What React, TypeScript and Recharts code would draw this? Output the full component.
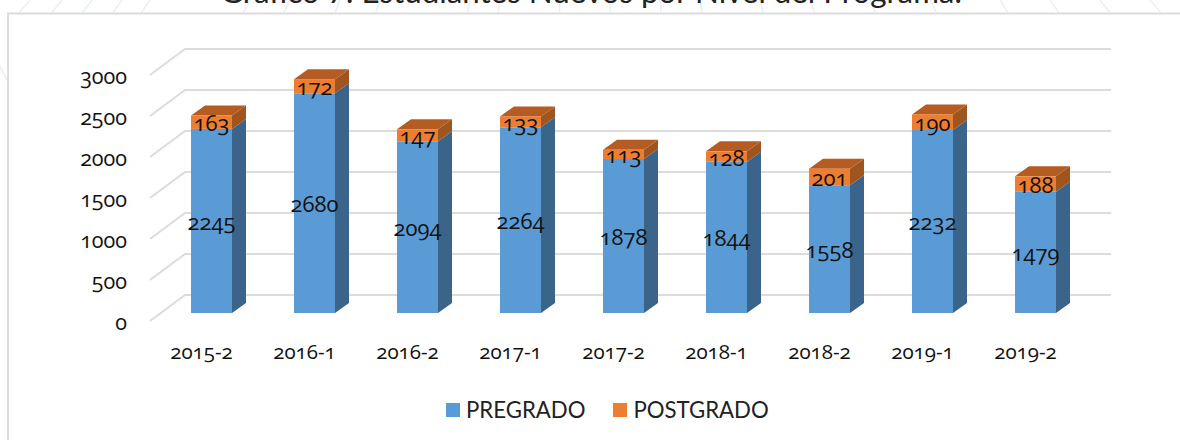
import React from "react";
import { ComposedChart, Bar, XAxis, YAxis, CartesianGrid, LabelList, Legend } from "recharts";

const categories = ["2015-2", "2016-1", "2016-2", "2017-1", "2017-2", "2018-1", "2018-2", "2019-1", "2019-2"];
const pregrado = [2245, 2680, 2094, 2264, 1878, 1844, 1558, 2232, 1479];
const postgrado = [163, 172, 147, 133, 113, 128, 201, 190, 188];
const yTicks = [0, 500, 1000, 1500, 2000, 2500, 3000];
const titleText = "Gráfico 7: Estudiantes Nuevos por Nivel del Programa.";

const rows = categories.map((c, i) => ({ c, PREGRADO: pregrado[i], POSTGRADO: postgrado[i] }));

const FONT = "'Open Sans', Lato, sans-serif";
const numStyle: React.CSSProperties = { fontVariantNumeric: "oldstyle-nums", fontFeatureSettings: "'onum' 1" };
const DX = 14;
const DY = 10;

const Box = (fill: string, side: string, top?: string) => (p: any) => {
  const { x, y, width: w, height: h } = p;
  return (
    <g>
      <polygon points={`${x + w},${y} ${x + w + DX},${y - DY} ${x + w + DX},${y + h - DY} ${x + w},${y + h}`} fill={side} />
      {top && <polygon points={`${x},${y} ${x + DX},${y - DY} ${x + w + DX},${y - DY} ${x + w},${y}`} fill={top} />}
      <rect x={x} y={y} width={w} height={h} fill={fill} />
    </g>
  );
};

const GridLine = (p: any) => (
  <g key={p.key}>
    <polyline
      points={`${p.x1 - 10},${p.y1 + 8} ${p.x1 + 25},${p.y1 - 18} ${p.x2 + 24},${p.y1 - 18}`}
      fill="none"
      stroke="#dcdcdc"
      strokeWidth={2}
    />
  </g>
);

const YTick = (p: any) => (
  <text x={127} y={p.y + 17} textAnchor="end" fontFamily={FONT} fontSize={21.5} fill="#111" style={numStyle}>
    {p.payload.value}
  </text>
);

const XTick = (p: any) => (
  <text x={p.x - 10} y={359} textAnchor="middle" fontFamily={FONT} fontSize={20.5} fill="#111" style={numStyle}>
    {p.payload.value}
  </text>
);

const ValueLabel = (p: any) => (
  <text
    x={p.x + p.width / 2}
    y={p.y + p.height / 2 + 9}
    textAnchor="middle"
    fontFamily={FONT}
    fontSize={22}
    fill="#111"
    style={numStyle}
  >
    {p.value}
  </text>
);

const LegendBody = ({ payload }: any) => {
  const items = [...(payload || [])].sort((a: any, b: any) => (a.value === "PREGRADO" ? -1 : b.value === "PREGRADO" ? 1 : 0));
  return (
    <div style={{ display: "flex", alignItems: "center", fontFamily: "Lato, sans-serif", fontSize: 22.2, color: "#222" }}>
      {items.map((it: any, i: number) => (
        <div key={it.value} style={{ display: "flex", alignItems: "center", marginLeft: i ? 28 : 0 }}>
          <span style={{ width: 14, height: 14, background: it.color, marginRight: 6, display: "inline-block" }} />
          {it.value}
        </div>
      ))}
    </div>
  );
};

const radial = [30, 62, 92, 122, 150, 250, 290, 340, 380, 470, 500, 560, 610, 660, 700, 760, 810, 870, 930, 1000, 1050, 1100, 1150];

export default function App() {
  return (
    <div style={{ position: "fixed", left: 0, top: 0, width: 1180, height: 440, overflow: "hidden", background: "#fff" }}>
      <svg width={1180} height={440} style={{ position: "absolute", left: 0, top: 0 }}>
        {radial.map((x) => (
          <line key={x} x1={x} y1={0} x2={x + (x - 590) * 0.02} y2={13} stroke="#e8f0f6" strokeWidth={1.5} />
        ))}
        <line x1={0} y1={66} x2={7} y2={80} stroke="#e8f0f6" strokeWidth={1.5} />
        <rect x={8} y={13.5} width={1190} height={450} fill="#fff" stroke="#dcdcdc" strokeWidth={2} />
        <text x={591} y={3} textAnchor="middle" fontFamily="Lato, sans-serif" fontSize={31.3} fill="#222">
          {titleText}
        </text>
      </svg>
      <div style={{ position: "absolute", left: 0, top: 0 }}>
        <ComposedChart
          width={1180}
          height={440}
          data={rows}
          barCategoryGap={31}
          margin={{ top: 67, right: 93, bottom: 0, left: 60 }}
        >
          <CartesianGrid vertical={false} horizontal={GridLine as any} />
          <XAxis dataKey="c" height={97} axisLine={false} tickLine={false} tick={XTick as any} interval={0} />
          <YAxis width={100} domain={[0, 3000]} ticks={yTicks} axisLine={false} tickLine={false} tick={YTick as any} interval={0} />
          <Legend
            verticalAlign="bottom"
            align="left"
            content={LegendBody as any}
            wrapperStyle={{ position: "absolute", left: 446, top: 396, width: 360, height: 30, bottom: "auto" }}
          />
          <Bar dataKey="PREGRADO" stackId="a" fill="#5b9bd5" isAnimationActive={false} shape={Box("#5b9bd5", "#3a6489") as any}>
            <LabelList dataKey="PREGRADO" content={ValueLabel as any} />
          </Bar>
          <Bar dataKey="POSTGRADO" stackId="a" fill="#ed7d31" isAnimationActive={false} shape={Box("#ed7d31", "#a0541e", "#b45c22") as any}>
            <LabelList dataKey="POSTGRADO" content={ValueLabel as any} />
          </Bar>
        </ComposedChart>
      </div>
    </div>
  );
}
